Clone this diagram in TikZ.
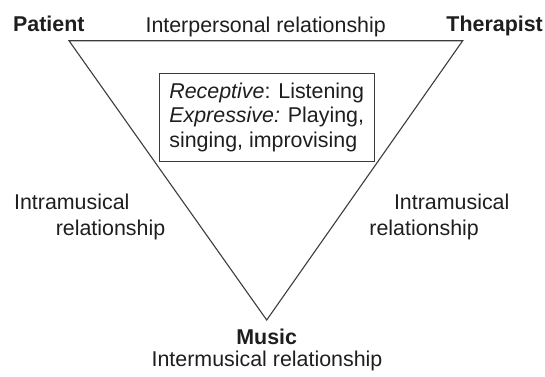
\documentclass[tikz,border=0pt]{standalone}
\usepackage{fontspec}
\setmainfont{Liberation Sans}
\definecolor{ink}{RGB}{30,30,30}
\definecolor{linec}{RGB}{60,60,60}
\begin{document}
\begin{tikzpicture}[x=1pt,y=-1pt,
  lbl/.style={inner sep=0pt, text=ink, font=\fontsize{21.4}{24.5}\selectfont},
  edge/.style={draw=linec, line width=1.1pt, line join=miter},
  boxed/.style={draw=linec, line width=1.1pt, align=left, inner sep=0pt,
     minimum width=214.7pt, minimum height=87.7pt, text=ink,
     font=\fontsize{21.4}{24.5}\selectfont}]
\useasboundingbox (0,0) rectangle (545,376);
\coordinate (P) at (69,40.7);
\coordinate (T) at (462.7,40.7);
\coordinate (M) at (266.7,320);
\draw[edge] (P) -- (T) -- (M) -- cycle;
\node[lbl, anchor=base west] (patient) at (13,31) {\bfseries Patient};
\node[lbl, anchor=base east] (therapist) at (543,31) {\bfseries Therapist};
\node[lbl, anchor=base] (inter) at (265.7,32) {Interpersonal relationship};
\node[boxed] (box) at (266.7,117.2) {\textit{Receptive}: Listening\\\textit{Expressive:} Playing,\\singing, improvising};
\node[lbl, anchor=base west] (l1) at (13.9,209.5) {Intramusical};
\node[lbl, anchor=base west] (l2) at (55.6,235.6) {relationship};
\node[lbl, anchor=base west] (r1) at (393.8,209.5) {Intramusical};
\node[lbl, anchor=base west] (r2) at (369.2,235.6) {relationship};
\node[lbl, anchor=base] (music) at (266.7,344) {\bfseries Music};
\node[lbl, anchor=base] (intermus) at (267,366.7) {Intermusical relationship};
\end{tikzpicture}
\end{document}
